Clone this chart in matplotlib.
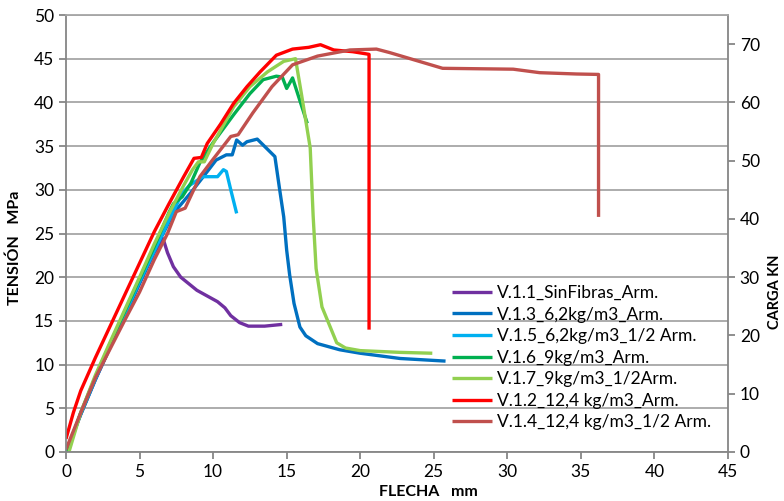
import matplotlib
matplotlib.use("Agg")
import matplotlib.pyplot as plt

# ---- data (FLECHA mm, TENSION MPa) ----
labels = ["V.1.1_SinFibras_Arm.", "V.1.3_6,2kg/m3_Arm.", "V.1.5_6,2kg/m3_1/2 Arm.",
          "V.1.6_9kg/m3_Arm.", "V.1.7_9kg/m3_1/2Arm.", "V.1.2_12,4 kg/m3_Arm.",
          "V.1.4_12,4 kg/m3_1/2 Arm."]
colors = ["#7030A0", "#0070C0", "#00B0F0", "#00B050", "#92D050", "#FF0000", "#C0504D"]

v11_x = [0, 1, 2, 3, 4, 5, 6, 6.6, 6.9, 7.3, 7.8, 8.9, 10.3, 10.8, 11.2, 11.8, 12.4, 13.5, 14.7]
v11_y = [0, 4.3, 8.3, 12.0, 15.6, 19.3, 22.8, 24.4, 22.8, 21.2, 20.0, 18.5, 17.2, 16.5, 15.6, 14.8, 14.4, 14.4, 14.6]

v13_x = [0, 1, 2, 3, 4, 5, 6, 7, 7.5, 8.5, 9.7, 10.2, 10.9, 11.3, 11.6, 12.0, 12.3, 13.0, 14.2,
         14.5, 14.8, 15.0, 15.2, 15.5, 15.9, 16.3, 17.1, 18.6, 20.0, 22.7, 25.8]
v13_y = [0, 4.3, 8.3, 12.0, 15.6, 19.3, 23.0, 26.3, 27.7, 29.7, 32.3, 33.4, 34.0, 34.0, 35.7, 35.1,
         35.5, 35.8, 33.8, 30.3, 26.9, 23.1, 20.3, 17.0, 14.3, 13.3, 12.4, 11.7, 11.3, 10.7, 10.4]

v15_x = [0, 1, 2, 3, 4, 5, 6, 7, 7.9, 8.4, 9.3, 10.3, 10.7, 10.9, 11.2, 11.6]
v15_y = [0, 4.4, 8.4, 12.1, 15.8, 19.5, 23.0, 26.5, 29.6, 30.5, 31.5, 31.5, 32.3, 32.1, 30.0, 27.3]

v16_x = [0.1, 1, 2, 3, 4, 5, 6, 7, 7.3, 7.9, 8.5, 9.1, 10, 11.4, 12.5, 13.4, 14.3, 14.7, 15.0, 15.4, 16.4]
v16_y = [0, 4.5, 8.6, 12.4, 16.1, 19.8, 23.5, 27.4, 28.4, 29.2, 30.8, 33.1, 35.4, 38.6, 41.0, 42.6,
         43.0, 42.9, 41.6, 42.8, 37.6]

v17_x = [0.2, 1, 2, 3, 4, 5, 6, 7, 8, 8.6, 9.0, 9.4, 10, 11.4, 12.5, 13.7, 14.8, 15.6, 16.0, 16.6,
         16.8, 17.0, 17.4, 18.4, 19.0, 20.0, 22.7, 24.9]
v17_y = [0, 4.5, 8.8, 12.6, 16.3, 20.0, 23.8, 27.3, 30.5, 32.3, 33.2, 33.2, 35.3, 39.5, 41.8, 43.5,
         44.7, 45.0, 41.0, 34.8, 27.0, 21.0, 16.6, 12.5, 11.9, 11.6, 11.4, 11.3]

v12_x = [0, 0.5, 1, 2, 3, 4, 5, 6, 7, 8, 8.7, 9.2, 9.6, 10.5, 11.4, 12.3, 13.2, 14.3, 15.4, 16.5,
         17.3, 18.2, 19.5, 20.6, 20.6]
v12_y = [1.5, 4.5, 7.0, 10.8, 14.4, 18.0, 21.6, 25.2, 28.4, 31.5, 33.6, 33.7, 35.3, 37.5, 39.9, 41.8,
         43.5, 45.4, 46.1, 46.3, 46.6, 46.0, 45.8, 45.5, 14.0]

v14_x = [0, 1, 2, 3, 4, 5, 6, 6.9, 7.5, 8.1, 9.1, 10, 11.2, 11.7, 12.7, 14, 15.4, 17.1, 19.3, 21.1,
         22.0, 23.2, 25.6, 30.4, 32.2, 34.7, 36.2, 36.2]
v14_y = [0.3, 4.5, 8.5, 11.8, 15.1, 18.3, 22.0, 25.0, 27.5, 27.9, 31.5, 33.5, 36.1, 36.3, 38.8, 41.8,
         44.3, 45.3, 46.0, 46.1, 45.7, 45.1, 43.9, 43.8, 43.4, 43.25, 43.2, 26.9]

series_x = [v11_x, v13_x, v15_x, v16_x, v17_x, v12_x, v14_x]
series_y = [v11_y, v13_y, v15_y, v16_y, v17_y, v12_y, v14_y]

x_ticks = list(range(0, 50, 5))
y_ticks = list(range(0, 55, 5))
y2_ticks = list(range(0, 80, 10))

plt.rcParams['font.family'] = ['Lato', 'DejaVu Sans']

fig = plt.figure(figsize=(7.84, 5.01), dpi=100)
ax = fig.add_axes([66/784, 49/501, (728-66)/784, (452-15)/501])

for xs, ys, c, lab in zip(series_x, series_y, colors, labels):
    ax.plot(xs, ys, color=c, lw=2.4, label=lab, solid_joinstyle='round', solid_capstyle='butt')

ax.set_xlim(0, 45)
ax.set_ylim(0, 50)
ax.set_xticks(x_ticks)
ax.set_yticks(y_ticks)
ax.grid(axis='y', color='#A6A6A6', lw=1.3)
ax.set_axisbelow(True)
gray = '#868686'
for s in ax.spines.values():
    s.set_color(gray)
    s.set_linewidth(1.3)
ax.spines['top'].set_color('#A6A6A6')
ax.tick_params(axis='both', colors=gray, labelcolor='black', labelsize=12.5, length=5, width=1.3)

ax2 = ax.twinx()
ax2.set_ylim(0, 75)
ax2.set_yticks(y2_ticks)
for s in ax2.spines.values():
    s.set_visible(False)
ax2.tick_params(axis='y', colors=gray, labelcolor='black', labelsize=12.5, length=5, width=1.3)

fig.text(15/784, 1 - 248/501, "TENSIÓN   MPa", rotation=90, fontsize=11.5, fontweight='bold',
         ha='center', va='center')
fig.text(428/784, 1 - 492/501, "FLECHA   mm", fontsize=11.5, fontweight='bold',
         ha='center', va='center')
fig.text(775/784, 1 - 292/501, "CARGA KN", rotation=90, fontsize=10.5, fontweight='bold',
         ha='center', va='center')

leg = ax.legend(loc='upper left', bbox_to_anchor=(452/784, 1 - 285/501), bbox_transform=fig.transFigure,
                frameon=False, fontsize=12.5, handlelength=2.3, handletextpad=0.3,
                labelspacing=0.32, borderpad=0, borderaxespad=0)

fig.savefig("out.png", dpi=100)
